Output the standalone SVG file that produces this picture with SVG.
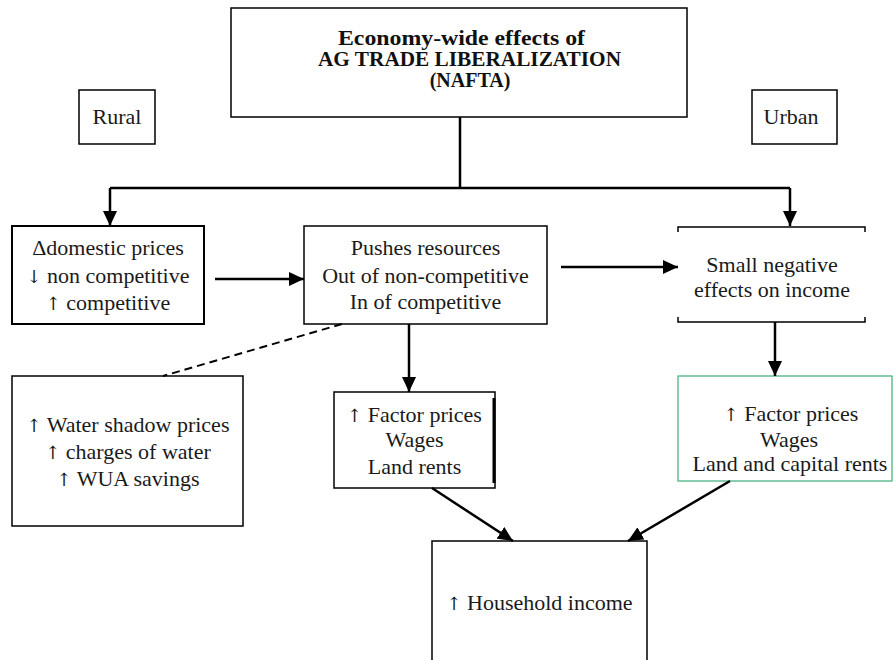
<svg xmlns="http://www.w3.org/2000/svg" width="893" height="660" viewBox="0 0 893 660">
<defs>
<style>
.box{fill:#fff;stroke:#000;stroke-width:1.5}
.t{font-family:"Liberation Serif","DejaVu Serif",serif;font-size:22px;fill:#1a1a1a;text-anchor:middle}
.ar{font-family:"DejaVu Serif",serif;font-size:18px}
.title{font-family:"Liberation Serif","DejaVu Serif",serif;font-size:20px;font-weight:bold;fill:#111;text-anchor:middle}
.c{fill:none;stroke:#000;stroke-width:2.5}
</style>
<marker id="ah" markerUnits="userSpaceOnUse" markerWidth="16" markerHeight="14" refX="15" refY="7" orient="auto">
<path d="M0,0 L15,7 L0,14 Z" fill="#000"/>
</marker>
</defs>
<rect width="893" height="660" fill="#fff"/>

<g id="title">
<rect class="box" x="231" y="8" width="456" height="109"/>
<text class="title" x="461.5" y="45" textLength="247" lengthAdjust="spacingAndGlyphs">Economy-wide effects of</text>
<text class="title" x="469.5" y="66" textLength="303" lengthAdjust="spacingAndGlyphs">AG TRADE LIBERALIZATION</text>
<text class="title" x="470" y="87">(NAFTA)</text>
</g>

<g id="rural">
<rect class="box" x="79" y="90" width="76" height="54"/>
<text class="t" x="117" y="124">Rural</text>
</g>

<g id="urban">
<rect class="box" x="752" y="90" width="85" height="54"/>
<text class="t" x="791" y="124">Urban</text>
</g>

<g id="domestic">
<rect class="box" x="12" y="226" width="192" height="98" style="stroke-width:2"/>
<text class="t" x="108" y="255">Δdomestic prices</text>
<text class="t" x="108" y="283"><tspan class="ar">↓</tspan> non competitive</text>
<text class="t" x="108" y="310"><tspan class="ar">↑</tspan> competitive</text>
</g>

<g id="pushes">
<rect class="box" x="304" y="226" width="243" height="98"/>
<text class="t" x="425.5" y="255">Pushes resources</text>
<text class="t" x="425.5" y="283">Out of non-competitive</text>
<text class="t" x="425.5" y="309">In of competitive</text>
</g>

<g id="small">
<path d="M678,232 V227 H865 V232 M678,317 V322 H865 V317" fill="none" stroke="#000" stroke-width="1.5"/>
<text class="t" x="772" y="272">Small negative</text>
<text class="t" x="772" y="297">effects on income</text>
</g>

<g id="water">
<rect class="box" x="12" y="376" width="231" height="150"/>
<text class="t" x="128" y="432"><tspan class="ar">↑</tspan> Water shadow prices</text>
<text class="t" x="128" y="459"><tspan class="ar">↑</tspan> charges of water</text>
<text class="t" x="128" y="486"><tspan class="ar">↑</tspan> WUA savings</text>
</g>

<g id="factor-rural">
<rect class="box" x="334" y="392" width="161" height="96"/>
<line x1="494" y1="398" x2="494" y2="483" stroke="#000" stroke-width="3"/>
<text class="t" x="414.5" y="422"><tspan class="ar">↑</tspan> Factor prices</text>
<text class="t" x="414.5" y="447">Wages</text>
<text class="t" x="414.5" y="474">Land rents</text>
</g>

<g id="factor-urban">
<rect x="678" y="376" width="214" height="105" fill="#fff" stroke="#3fae7a" stroke-width="1.2"/>
<text class="t" x="791" y="421"><tspan class="ar">↑</tspan> Factor prices</text>
<text class="t" x="789" y="447">Wages</text>
<text class="t" x="790" y="471">Land and capital rents</text>
</g>

<g id="household">
<rect class="box" x="432" y="541" width="215" height="130"/>
<text class="t" x="539.5" y="610"><tspan class="ar">↑</tspan> Household income</text>
</g>

<g id="connectors">
<path class="c" d="M460,117 V188 M110,188 H790"/>
<path class="c" d="M110,188 V226" marker-end="url(#ah)"/>
<path class="c" d="M790,188 V226" marker-end="url(#ah)"/>
<path class="c" d="M215,279 H304" marker-end="url(#ah)"/>
<path class="c" d="M561,267 H678" marker-end="url(#ah)"/>
<path class="c" d="M409,324 V392" marker-end="url(#ah)"/>
<path class="c" d="M775,322 V376" marker-end="url(#ah)"/>
<path class="c" d="M432,488 L513,541" marker-end="url(#ah)"/>
<path class="c" d="M730,481 L628,541" marker-end="url(#ah)"/>
<path d="M342,324 L163,376" fill="none" stroke="#000" stroke-width="2" stroke-dasharray="8,5"/>
</g>
</svg>
